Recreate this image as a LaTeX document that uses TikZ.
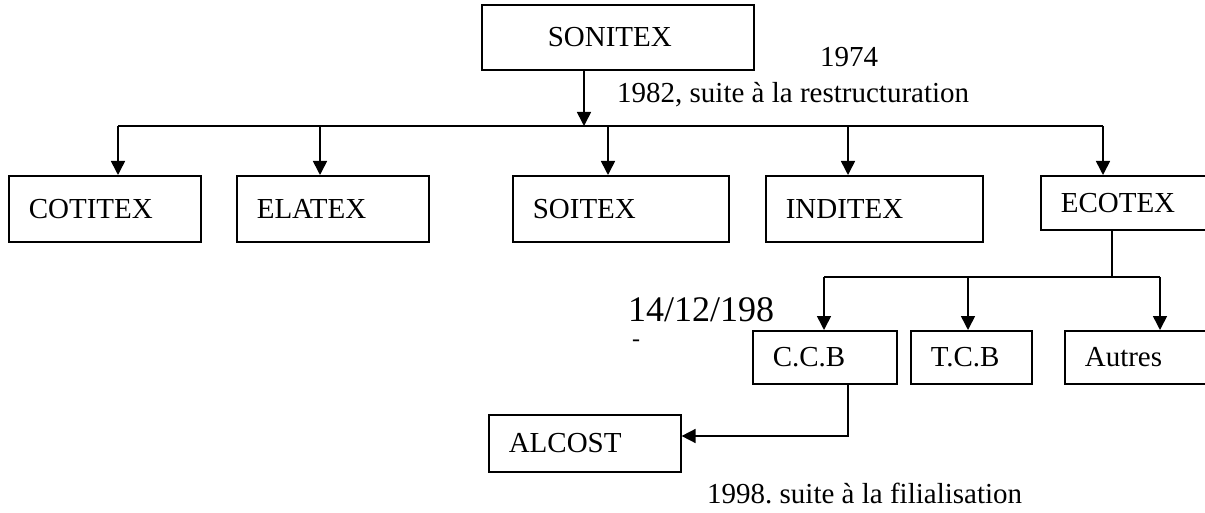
\documentclass[tikz,border=0pt]{standalone}
\usepackage{fontspec}
\setmainfont{Liberation Serif}
\usetikzlibrary{arrows.meta}
\tikzset{
  orgbox/.style={draw, line width=1.6pt, anchor=north west, align=left,
    inner xsep=20pt, inner ysep=0pt, text width=#1, font=\fontsize{29}{34}\selectfont},
  note/.style={anchor=base west, inner sep=0pt, font=\fontsize{29}{34}\selectfont},
  link/.style={line width=1.6pt},
  arrow/.style={line width=1.6pt, -{Triangle[width=14pt,length=14pt]}}
}
\begin{document}
\begin{tikzpicture}[x=1pt,y=-1pt]
\clip (0,0) rectangle (1205,513) ;
\node [orgbox=140pt, inner xsep=66pt, minimum height=65pt] (sonitex) at (481,4) {SONITEX} ;
\node [orgbox=152pt, minimum height=66pt] (cotitex) at (8,175) {COTITEX} ;
\node [orgbox=152pt, minimum height=66pt] (elatex) at (236,175) {ELATEX} ;
\node [orgbox=176pt, minimum height=66pt] (soitex) at (512,175) {SOITEX} ;
\node [orgbox=177pt, minimum height=66pt] (inditex) at (765,175) {INDITEX} ;
\node [orgbox=140pt, minimum height=54pt] (ecotex) at (1040,175) {ECOTEX} ;
\node [orgbox=104pt, minimum height=53pt] (ccb) at (752,330) {C.C.B} ;
\node [orgbox=81pt, minimum height=53pt] (tcb) at (910,330) {T.C.B} ;
\node [orgbox=110pt, minimum height=53pt] (autres) at (1064,330) {Autres} ;
\node [orgbox=152pt, minimum height=57pt] (alcost) at (488,414) {ALCOST} ;
\node [note] (y74) at (820,67) {1974} ;
\node [note] (y82) at (617,103) {1982, suite à la restructuration} ;
\node [note, font=\fontsize{36}{40}\selectfont] (d86) at (628,321) {14/12/198} ;
\node [note, font=\fontsize{24}{28}\selectfont] (cut) at (632,346) {-} ;
\node [note] (y98) at (707,503) {1998.\ suite à la filialisation} ;
\coordinate (bus) at (584,126) ;
\coordinate (t1) at (118,126) ;
\coordinate (t2) at (320,126) ;
\coordinate (t3) at (608,126) ;
\coordinate (t4) at (848,126) ;
\coordinate (t5) at (1103,126) ;
\draw [arrow] (sonitex.south -| bus) -- (bus) ;
\draw [link] (t1) -- (t5) ;
\draw [arrow] (t1) -- (t1 |- cotitex.north) ;
\draw [arrow] (t2) -- (t2 |- elatex.north) ;
\draw [arrow] (t3) -- (t3 |- soitex.north) ;
\draw [arrow] (t4) -- (t4 |- inditex.north) ;
\draw [arrow] (t5) -- (t5 |- ecotex.north) ;
\coordinate (e0) at (1112,277) ;
\coordinate (e1) at (824,277) ;
\coordinate (e2) at (968,277) ;
\coordinate (e3) at (1160,277) ;
\draw [link] (ecotex.south -| e0) -- (e0) ;
\draw [link] (e1) -- (e3) ;
\draw [arrow] (e1) -- (e1 |- ccb.north) ;
\draw [arrow] (e2) -- (e2 |- tcb.north) ;
\draw [arrow] (e3) -- (e3 |- autres.north) ;
\coordinate (c0) at (848,436) ;
\draw [arrow] (ccb.south -| c0) -- (c0) -- (c0 -| alcost.east) ;
\end{tikzpicture}
\end{document}
